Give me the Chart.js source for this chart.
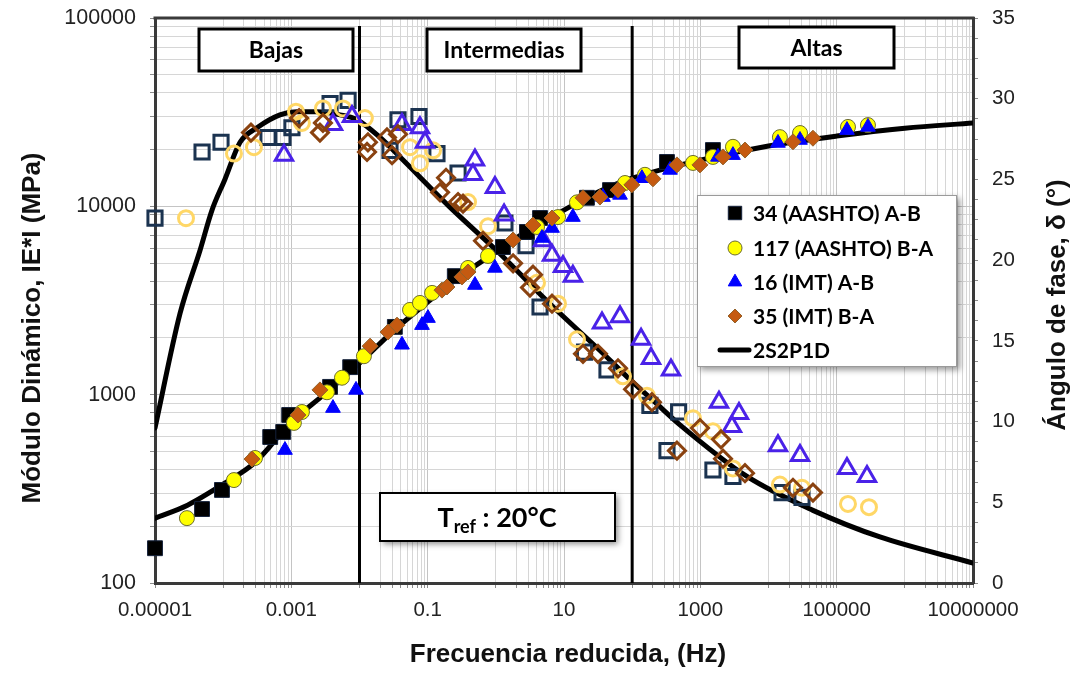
<!DOCTYPE html>
<html>
<head>
<meta charset="utf-8">
<script src="https://cdn.jsdelivr.net/npm/chart.js@4.4.1/dist/chart.umd.min.js"></script>
<style>
  html, body { margin: 0; padding: 0; background: #ffffff; }
  #wrap { width: 1076px; height: 673px; }
</style>
</head>
<body>
<div id="wrap"><canvas id="c" width="1076" height="673"></canvas></div>
<script>
// ---- Tick labels -------------------------------------------------------
const freqTickLabels = ['0.00001', '0.001', '0.1', '10', '1000', '100000', '10000000'];
const modTickLabels = ['100', '1000', '10000', '100000'];
const phaseTickLabels = ['0', '5', '10', '15', '20', '25', '30', '35'];

// ---- Frequency zones ---------------------------------------------------
const zoneLabels = ['Bajas', 'Intermedias', 'Altas'];
const zoneLimits = [0.01, 100];
const tempLabel = ['T', 'ref', ' : 20°C'];

// ---- 34 (AASHTO) A-B ---------------------------------------------------
const e34Freq = [1e-5, 4.9e-5, 9.6e-5, 4.9e-4, 7.6e-4, 9.3e-4, 3.7e-3, 7.3e-3, 0.033, 0.25, 1.27, 2.86, 4.45, 21.7, 47.3, 324, 1530];
const e34Mod = [153, 247, 312, 596, 634, 780, 1100, 1400, 2290, 4260, 6080, 7310, 8670, 11100, 12200, 17200, 19900];
const d34Freq = [1e-5, 4.9e-5, 9.3e-5, 4.55e-4, 7.55e-4, 1.02e-3, 3.7e-3, 6.8e-3, 0.028, 0.0367, 0.0746, 0.137, 0.279, 1.36, 2.77, 4.45, 20, 42.7, 182, 324, 480, 1530, 3010, 15800, 31000];
const d34Phase = [22.6, 26.7, 27.3, 27.6, 27.6, 28.2, 29.7, 29.9, 26.8, 28.7, 28.9, 26.6, 25.4, 22.3, 20.9, 17.1, 14.3, 13.2, 11.0, 8.2, 10.6, 7.0, 6.6, 5.6, 5.3];

// ---- 117 (AASHTO) B-A --------------------------------------------------
const e117Freq = [2.94e-5, 1.44e-4, 2.93e-4, 1.09e-3, 1.43e-3, 3.33e-3, 5.53e-3, 0.0116, 0.0551, 0.0771, 0.116, 0.391, 0.768, 4.02, 8.17, 15.5, 78.5, 154, 780, 1530, 3010, 14700, 29000, 146600, 287800];
const e117Mod = [221, 352, 461, 708, 809, 1030, 1230, 1600, 2820, 3070, 3470, 4710, 5450, 7770, 8770, 10500, 13300, 14700, 17000, 18300, 20700, 23300, 24500, 26400, 27000];
const d117Freq = [2.85e-5, 1.44e-4, 2.83e-4, 1.17e-3, 1.43e-3, 2.91e-3, 5.72e-3, 0.012, 0.0551, 0.0771, 0.12, 0.391, 0.768, 4.02, 8.17, 15.5, 73.3, 165, 780, 1530, 3010, 14700, 31000, 146600, 297900];
const d117Phase = [22.6, 26.6, 27.0, 29.2, 28.5, 29.4, 29.4, 28.8, 27.0, 26.0, 26.8, 23.6, 22.1, 18.6, 17.3, 15.1, 12.8, 11.6, 10.2, 9.4, 7.1, 6.1, 5.9, 4.9, 4.7];

// ---- 16 (IMT) A-B ------------------------------------------------------
const e16Freq = [8.07e-4, 4.08e-3, 8.89e-3, 0.042, 0.0826, 0.101, 0.494, 0.97, 4.75, 6.67, 13.5, 37.3, 66.3, 139, 359, 1815, 3010, 13770, 28970, 141600, 287800];
const e16Mod = [508, 849, 1060, 1840, 2340, 2550, 3820, 4710, 6790, 7670, 8770, 11200, 11500, 14100, 15600, 18300, 18700, 21700, 22500, 25400, 26400];
const d16Freq = [7.8e-4, 4.08e-3, 7.76e-3, 0.042, 0.0771, 0.0914, 0.462, 0.494, 0.97, 1.32, 4.92, 6.67, 9.67, 13.5, 36.1, 66.3, 135, 189, 371, 1878, 2910, 3690, 13770, 28970, 141600, 278600];
const d16Phase = [26.5, 28.4, 28.9, 28.4, 28.2, 27.3, 25.3, 26.2, 24.5, 22.8, 21.2, 20.3, 19.6, 19.0, 16.1, 16.5, 15.1, 13.9, 13.2, 11.2, 9.7, 10.5, 8.5, 7.9, 7.1, 6.6];

// ---- 35 (IMT) B-A ------------------------------------------------------
const e35Freq = [2.65e-4, 1.25e-3, 2.63e-3, 0.0143, 0.0262, 0.0355, 0.162, 0.192, 0.319, 0.391, 1.79, 3.51, 6.67, 19.0, 33.7, 62, 99, 202, 454, 988, 2150, 4520, 22860, 44900];
const e35Mod = [455, 780, 1060, 1810, 2150, 2340, 3590, 3730, 4220, 4480, 6630, 7960, 8670, 11100, 11200, 12200, 13000, 14000, 16600, 16600, 18300, 19900, 22000, 23000];
const d35Freq = [2.56e-4, 1.30e-3, 2.63e-3, 2.91e-3, 0.0129, 0.0133, 0.0253, 0.030, 0.0367, 0.152, 0.186, 0.279, 0.33, 0.648, 1.79, 3.17, 3.51, 6.67, 19.0, 31.5, 62, 103, 195, 454, 988, 2010, 2150, 4520, 22860, 44900];
const d35Phase = [27.9, 28.8, 27.9, 28.5, 26.7, 27.3, 27.6, 26.5, 27.8, 24.2, 25.1, 23.6, 23.5, 21.2, 19.8, 18.3, 19.1, 17.3, 14.2, 14.2, 13.3, 12.0, 11.2, 8.2, 9.6, 8.9, 7.7, 6.8, 5.9, 5.6];

// ---- 2S2P1D model ------------------------------------------------------
const modelModFreq = [1e-5, 3e-5, 1e-4, 3e-4, 1e-3, 3e-3, 0.01, 0.03, 0.1, 0.3, 1, 3, 10, 30, 100, 1000, 1e4, 1e5, 1e6, 1e7];
const modelMod = [221, 259, 335, 440, 716, 1000, 1470, 2150, 3100, 4260, 5720, 7480, 9550, 11800, 14100, 17600, 20900, 23600, 26000, 27700];
const modelPhaseFreq = [1e-5, 2.33e-5, 4.57e-5, 6.86e-5, 1.06e-4, 1.77e-4, 3.13e-4, 6.8e-4, 1.2e-3, 2.4e-3, 5.2e-3, 9.2e-3, 0.02, 0.039, 0.21, 1.15, 6.2, 33.7, 93, 216, 502, 4830, 44900, 431000, 1e7];
const modelPhase = [9.6, 16.7, 20.6, 23.1, 25.0, 27.3, 28.2, 29.0, 29.2, 29.2, 29.0, 28.7, 27.6, 26.4, 23.3, 20.4, 17.3, 14.4, 12.6, 11.2, 9.8, 6.6, 4.5, 2.85, 1.24];

// ---- helpers -----------------------------------------------------------
const pts = (xs, ys) => xs.map((x, i) => ({ x: x, y: ys[i] }));
const sameLog = (a, b) => Math.abs(Math.log10(a) - Math.log10(b)) < 1e-6;

// Frequency gridlines: every labelled value plus 1..9 x the decade above it
const freqGrid = [];
freqTickLabels.forEach((lbl, i) => {
  const v = Number(lbl);
  freqGrid.push(v);
  if (i < freqTickLabels.length - 1) {
    for (let k = 1; k <= 9; k++) freqGrid.push(k * v * 10);
  }
});
// Modulus gridlines: 1..9 within each decade
const modGrid = [];
modTickLabels.forEach((lbl, i) => {
  const v = Number(lbl);
  if (i < modTickLabels.length - 1) {
    for (let k = 1; k <= 9; k++) modGrid.push(k * v);
  } else {
    modGrid.push(v);
  }
});
// Phase ticks: major every 5 degrees, minor between
const phaseGrid = [];
for (let i = 0; i < phaseTickLabels.length; i++) {
  const v = Number(phaseTickLabels[i]);
  phaseGrid.push(v);
  if (i < phaseTickLabels.length - 1) {
    for (let k = 1; k < 4; k++) phaseGrid.push(v + k * 1.25);
  }
}

const series = [
  { label: '34 (AASHTO) A-B', style: 'rect', fill: '#000000', edge: '#14213a', ring: '#1b3350', mr: 10.5, hr: 10, lr: 9.5 },
  { label: '117 (AASHTO) B-A', style: 'circle', fill: '#ffff00', edge: '#6b6b30', ring: '#ffd766', mr: 7.5, hr: 7.5, lr: 7 },
  { label: '16 (IMT) A-B', style: 'triangle', fill: '#0000ff', edge: '#0000ff', ring: '#4a22e8', mr: 8.5, hr: 10, lr: 7.8 },
  { label: '35 (IMT) B-A', style: 'rectRot', fill: '#c55a11', edge: '#93622a', ring: '#8a4210', mr: 8, hr: 8.5, lr: 7 }
];
const modData = [pts(e34Freq, e34Mod), pts(e117Freq, e117Mod), pts(e16Freq, e16Mod), pts(e35Freq, e35Mod)];
const phaseData = [pts(d34Freq, d34Phase), pts(d117Freq, d117Phase), pts(d16Freq, d16Phase), pts(d35Freq, d35Phase)];

const datasets = [];
series.forEach((s, i) => {
  datasets.push({
    label: s.label, data: modData[i], yAxisID: 'y', order: 4 - i, clip: false,
    pointStyle: s.style, pointRadius: s.mr, pointBackgroundColor: s.fill,
    pointBorderColor: s.edge, pointBorderWidth: 1, showLine: false
  });
  datasets.push({
    label: s.label + ' δ', data: phaseData[i], yAxisID: 'y2', order: 8 - i, clip: false,
    pointStyle: s.style, pointRadius: s.hr, pointBackgroundColor: 'rgba(0,0,0,0)',
    pointBorderColor: s.ring, pointBorderWidth: 3, showLine: false
  });
});
datasets.push({
  label: '2S2P1D', data: pts(modelModFreq, modelMod), yAxisID: 'y', order: 20,
  showLine: true, pointRadius: 0, borderColor: '#000000', borderWidth: 5,
  cubicInterpolationMode: 'monotone', borderCapStyle: 'round'
});
datasets.push({
  label: '2S2P1D δ', data: pts(modelPhaseFreq, modelPhase), yAxisID: 'y2', order: 21,
  showLine: true, pointRadius: 0, borderColor: '#000000', borderWidth: 5,
  cubicInterpolationMode: 'monotone', borderCapStyle: 'round'
});

const TICK_FAMILY = 'Liberation Sans, Arial, sans-serif';
const AXIS_COLOR = '#3a3a3a';

function drawBox(ctx, x, y, w, h, lw, shadow) {
  ctx.save();
  if (shadow) {
    ctx.shadowColor = 'rgba(0,0,0,0.45)';
    ctx.shadowBlur = 6;
    ctx.shadowOffsetX = 3;
    ctx.shadowOffsetY = 3;
  }
  ctx.fillStyle = '#ffffff';
  ctx.fillRect(x, y, w, h);
  ctx.restore();
  ctx.save();
  ctx.strokeStyle = '#000000';
  ctx.lineWidth = lw;
  ctx.strokeRect(x, y, w, h);
  ctx.restore();
}

const decor = {
  id: 'decor',
  beforeDatasetsDraw(chart) {
    const { ctx, chartArea: a, scales } = chart;
    ctx.save();
    // top frame line
    ctx.strokeStyle = AXIS_COLOR;
    ctx.lineWidth = 3;
    ctx.beginPath();
    ctx.moveTo(a.left - 1.5, a.top);
    ctx.lineTo(a.right + 1.5, a.top);
    ctx.stroke();
    // zone limits
    ctx.strokeStyle = '#000000';
    ctx.lineWidth = 3;
    zoneLimits.forEach(f => {
      const px = scales.x.getPixelForValue(f);
      ctx.beginPath();
      ctx.moveTo(px, a.top + 8);
      ctx.lineTo(px, a.bottom);
      ctx.stroke();
    });
    ctx.restore();
  },
  afterDraw(chart) {
    const { ctx } = chart;
    ctx.save();
    // zone boxes
    const zoneBoxes = [[199, 29, 154, 42], [427, 29, 154, 42], [739, 27, 155, 41]];
    ctx.font = 'bold 23px Lato, "Liberation Sans", sans-serif';
    ctx.textAlign = 'center';
    ctx.textBaseline = 'middle';
    zoneBoxes.forEach((b, i) => {
      drawBox(ctx, b[0], b[1], b[2], b[3], 3, false);
      ctx.fillStyle = '#000000';
      ctx.fillText(zoneLabels[i], b[0] + b[2] / 2, b[1] + b[3] / 2 + 1);
    });

    // reference temperature box
    drawBox(ctx, 380, 493, 235, 48, 2, true);
    ctx.fillStyle = '#000000';
    ctx.textAlign = 'left';
    ctx.textBaseline = 'alphabetic';
    const big = 'bold 27px Lato, "Liberation Sans", sans-serif';
    const small = 'bold 18px Lato, "Liberation Sans", sans-serif';
    ctx.font = big;
    const w1 = ctx.measureText(tempLabel[0]).width;
    ctx.font = small;
    const w2 = ctx.measureText(tempLabel[1]).width;
    ctx.font = big;
    const w3 = ctx.measureText(tempLabel[2]).width;
    let tx = 497 - (w1 + w2 + w3) / 2;
    ctx.fillText(tempLabel[0], tx, 527);
    ctx.font = small;
    ctx.fillText(tempLabel[1], tx + w1, 533);
    ctx.font = big;
    ctx.fillText(tempLabel[2], tx + w1 + w2, 527);

    // legend
    ctx.save();
    ctx.shadowColor = 'rgba(0,0,0,0.4)';
    ctx.shadowBlur = 6;
    ctx.shadowOffsetX = 3;
    ctx.shadowOffsetY = 3;
    ctx.fillStyle = '#ffffff';
    ctx.fillRect(697, 195, 260, 172);
    ctx.restore();
    ctx.strokeStyle = '#9a9a9a';
    ctx.lineWidth = 1;
    ctx.strokeRect(697.5, 195.5, 259, 171);
    ctx.font = 'bold 21px Lato, "Liberation Sans", sans-serif';
    ctx.textBaseline = 'middle';
    const rowY = [213, 248, 282, 316, 350];
    series.forEach((s, i) => {
      ctx.fillStyle = s.fill;
      ctx.strokeStyle = s.edge;
      ctx.lineWidth = 1;
      Chart.helpers.drawPoint(ctx, { pointStyle: s.style, radius: s.lr, rotation: 0, borderWidth: 1 }, 735, rowY[i]);
      ctx.fillStyle = '#000000';
      ctx.fillText(s.label, 753, rowY[i] + 1);
    });
    ctx.strokeStyle = '#000000';
    ctx.lineWidth = 5;
    ctx.lineCap = 'round';
    ctx.beginPath();
    ctx.moveTo(720, rowY[4]);
    ctx.lineTo(749, rowY[4]);
    ctx.stroke();
    ctx.fillStyle = '#000000';
    ctx.fillText('2S2P1D', 753, rowY[4] + 1);

    // axis titles
    ctx.fillStyle = '#111111';
    ctx.font = 'bold 26px "Liberation Sans", Arial, sans-serif';
    ctx.textAlign = 'center';
    ctx.textBaseline = 'middle';
    ctx.fillText('Frecuencia reducida, (Hz)', 568, 655);
    ctx.save();
    ctx.translate(33, 328);
    ctx.rotate(-Math.PI / 2);
    ctx.fillText('Módulo Dinámico, IE*I (MPa)', 0, 0);
    ctx.restore();
    ctx.save();
    ctx.translate(1058, 305);
    ctx.rotate(-Math.PI / 2);
    ctx.fillText('Ángulo de fase, δ (°)', 0, 0);
    ctx.restore();
    ctx.restore();
  }
};

new Chart(document.getElementById('c'), {
  type: 'scatter',
  data: { datasets: datasets },
  options: {
    responsive: false,
    animation: false,
    devicePixelRatio: 1,
    layout: { padding: { top: 18, left: 0, right: 0, bottom: 0 } },
    plugins: { legend: { display: false }, tooltip: { enabled: false } },
    elements: { line: { tension: 0 } },
    scales: {
      x: {
        type: 'logarithmic', position: 'bottom', min: 1e-5, max: 1e7,
        afterBuildTicks: s => { s.ticks = freqGrid.map(v => ({ value: v })); },
        afterFit: s => { s.height = 90; },
        ticks: {
          autoSkip: false, maxRotation: 0, minRotation: 0, padding: 10,
          color: '#222222', font: { family: TICK_FAMILY, size: 20.5 },
          callback: v => { const l = freqTickLabels.find(t => sameLog(Number(t), v)); return l === undefined ? '' : l; }
        },
        grid: {
          color: c => (c.tick && freqTickLabels.some(t => sameLog(Number(t), c.tick.value))) ? '#c4c4c4' : '#d6d6d6',
          lineWidth: 1, tickLength: 5, tickColor: '#8c8c8c'
        },
        border: { display: true, color: AXIS_COLOR, width: 3 }
      },
      y: {
        type: 'logarithmic', position: 'left', min: 100, max: 100000,
        afterBuildTicks: s => { s.ticks = modGrid.map(v => ({ value: v })); },
        afterFit: s => { s.width = 155; s.paddingTop = 0; s.paddingBottom = 0; },
        ticks: {
          autoSkip: false, padding: 14, color: '#222222', font: { family: TICK_FAMILY, size: 21.5 },
          callback: v => { const l = modTickLabels.find(t => sameLog(Number(t), v)); return l === undefined ? '' : l; }
        },
        grid: {
          color: c => (c.tick && modTickLabels.some(t => sameLog(Number(t), c.tick.value))) ? '#c4c4c4' : '#d6d6d6',
          lineWidth: 1, tickLength: 5, tickColor: '#8c8c8c'
        },
        border: { display: true, color: AXIS_COLOR, width: 3 }
      },
      y2: {
        type: 'linear', position: 'right', min: 0, max: 35,
        afterBuildTicks: s => { s.ticks = phaseGrid.map(v => ({ value: v })); },
        afterFit: s => { s.width = 103; s.paddingTop = 0; s.paddingBottom = 0; },
        ticks: {
          autoSkip: false, padding: 14, color: '#222222', font: { family: TICK_FAMILY, size: 20.5 },
          callback: v => { const l = phaseTickLabels.find(t => Math.abs(Number(t) - v) < 1e-9); return l === undefined ? '' : l; }
        },
        grid: { drawOnChartArea: false, tickLength: 5, tickColor: '#8c8c8c' },
        border: { display: true, color: AXIS_COLOR, width: 3 }
      }
    }
  },
  plugins: [decor]
});
</script>
</body>
</html>
